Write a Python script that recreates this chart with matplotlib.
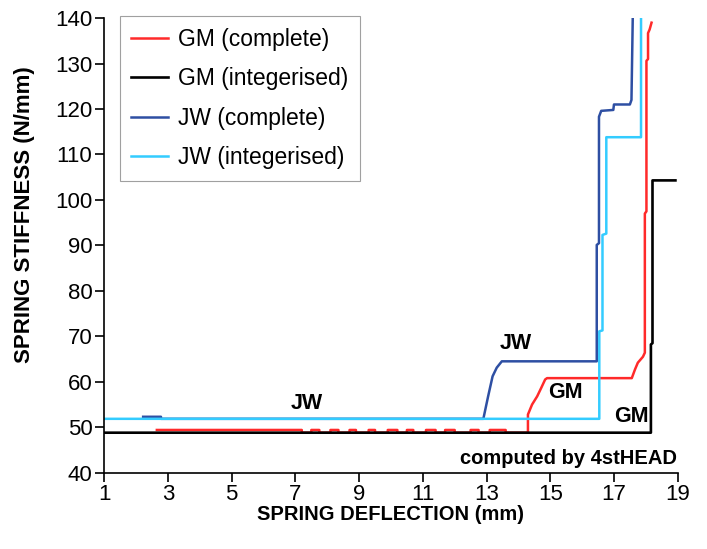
import matplotlib
matplotlib.use("Agg")
import matplotlib.pyplot as plt

plt.rcParams['font.family'] = ['Liberation Sans', 'DejaVu Sans']

# GM (complete)
gm_x = [2.65, 7.2, 7.2, 7.5, 7.5, 7.75, 7.75, 8.1, 8.1, 8.35, 8.35, 8.7, 8.7,
        8.9, 8.9, 9.3, 9.3, 9.5, 9.5, 9.9, 9.9, 10.2, 10.2, 10.5, 10.5, 10.7,
        10.7, 11.1, 11.1, 11.4, 11.4, 11.7, 11.7, 12.0, 12.0, 12.5, 12.5, 12.75,
        12.75, 13.1, 13.1, 13.6, 13.6, 14.3, 14.3, 14.43, 14.59, 14.72, 14.84,
        14.9, 17.56, 17.66, 17.75, 17.91, 17.97, 17.97, 18.02, 18.02, 18.07,
        18.07, 18.12, 18.18]
gm_y = [49.4, 49.4, 48.8, 48.8, 49.4, 49.4, 48.8, 48.8, 49.4, 49.4, 48.8, 48.8,
        49.4, 49.4, 48.8, 48.8, 49.4, 49.4, 48.8, 48.8, 49.4, 49.4, 48.8, 48.8,
        49.4, 49.4, 48.8, 48.8, 49.4, 49.4, 48.8, 48.8, 49.4, 49.4, 48.8, 48.8,
        49.4, 49.4, 48.8, 48.8, 49.4, 49.4, 48.8, 48.8, 52.8, 55.0, 56.8, 58.7,
        60.5, 60.8, 60.8, 62.7, 64.2, 65.5, 66.4, 97.0, 97.5, 130.6, 131.0,
        136.7, 137.5, 139.0]

# GM (integerised)
gmi_x = [1.0, 18.16, 18.16, 18.21, 18.21, 18.93]
gmi_y = [48.8, 48.8, 68.2, 68.5, 104.3, 104.3]

# JW (complete)
jw_x = [2.22, 2.78, 2.78, 12.9, 13.05, 13.19, 13.32, 13.48, 16.46, 16.46,
        16.53, 16.53, 16.6, 16.98, 17.0, 17.5, 17.55, 17.59]
jw_y = [52.3, 52.3, 51.85, 51.85, 56.8, 61.2, 63.1, 64.5, 64.5, 90.1,
        90.5, 118.3, 119.6, 119.8, 121.0, 121.0, 122.0, 140.0]

# JW (integerised)
jwi_x = [1.0, 16.54, 16.54, 16.64, 16.64, 16.76, 16.76, 17.85, 17.85]
jwi_y = [51.85, 51.85, 71.1, 71.3, 92.3, 92.6, 113.8, 113.8, 140.0]

fig = plt.figure(figsize=(7.07, 5.49), dpi=100)
ax = fig.add_axes([0.1475, 0.139, 0.811, 0.828])

ax.plot(gm_x, gm_y, color='#FF2A2A', lw=1.8, label='GM (complete)')
ax.plot(gmi_x, gmi_y, color='black', lw=1.9, label='GM (integerised)')
ax.plot(jw_x, jw_y, color='#2E4FA3', lw=1.8, label='JW (complete)')
ax.plot(jwi_x, jwi_y, color='#33CCFF', lw=1.8, label='JW (integerised)')

ax.set_xlim(1, 19)
ax.set_ylim(40, 140)
ax.set_xticks(range(1, 20, 2))
ax.set_yticks(range(40, 141, 10))

for s in ['top', 'right']:
    ax.spines[s].set_visible(False)
for s in ['left', 'bottom']:
    ax.spines[s].set_linewidth(1.2)
ax.tick_params(direction='out', length=6.5, width=1.2, labelsize=16, pad=2)

ax.set_xlabel('SPRING DEFLECTION (mm)', fontsize=14.5, fontweight='bold', labelpad=0)
ax.set_ylabel('SPRING STIFFNESS (N/mm)', fontsize=16, fontweight='bold')
ax.yaxis.set_label_coords(-0.121, 0.567)

bold = dict(fontsize=15.5, fontweight='bold', ha='center', va='center')
ax.text(7.35, 55.2, 'JW', **bold)
ax.text(13.93, 68.4, 'JW', **bold)
ax.text(15.49, 57.75, 'GM', **bold)
ax.text(17.55, 52.3, 'GM', **bold)
ax.text(18.98, 43.1, 'computed by 4stHEAD', fontsize=14.5, fontweight='bold',
        ha='right', va='center')

leg = ax.legend(loc='upper left', bbox_to_anchor=(0.027, 1.004), fontsize=16.5,
                frameon=True, fancybox=False, edgecolor='#888888',
                handlelength=1.6, handletextpad=0.45, labelspacing=0.72,
                borderpad=0.5, borderaxespad=0)
leg.get_frame().set_linewidth(0.8)

fig.savefig('out.png', dpi=100)
